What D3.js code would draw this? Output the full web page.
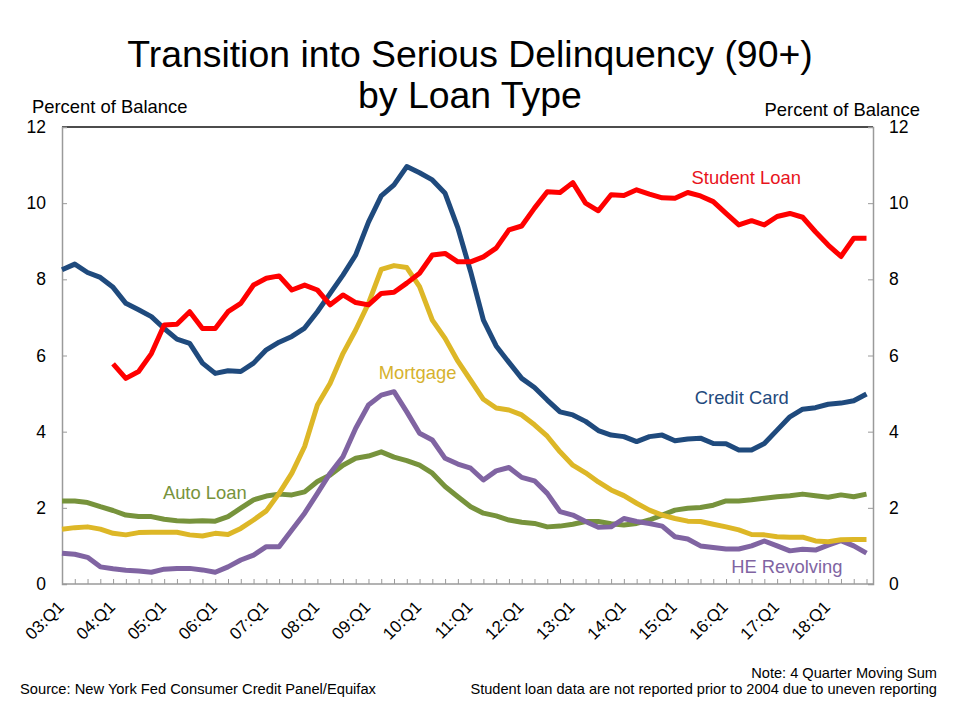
<!DOCTYPE html>
<html>
<head>
<meta charset="utf-8">
<script src="https://cdn.jsdelivr.net/npm/d3@7"></script>
<style>
  html, body { margin: 0; padding: 0; background: #fff; }
  svg { display: block; font-family: "Liberation Sans", Arial, sans-serif; }
</style>
</head>
<body>
<svg id="chart" width="954" height="714"></svg>
<script>
// ---------- data ----------
const quarters = [
  "03:Q1","03:Q2","03:Q3","03:Q4","04:Q1","04:Q2","04:Q3","04:Q4",
  "05:Q1","05:Q2","05:Q3","05:Q4","06:Q1","06:Q2","06:Q3","06:Q4",
  "07:Q1","07:Q2","07:Q3","07:Q4","08:Q1","08:Q2","08:Q3","08:Q4",
  "09:Q1","09:Q2","09:Q3","09:Q4","10:Q1","10:Q2","10:Q3","10:Q4",
  "11:Q1","11:Q2","11:Q3","11:Q4","12:Q1","12:Q2","12:Q3","12:Q4",
  "13:Q1","13:Q2","13:Q3","13:Q4","14:Q1","14:Q2","14:Q3","14:Q4",
  "15:Q1","15:Q2","15:Q3","15:Q4","16:Q1","16:Q2","16:Q3","16:Q4",
  "17:Q1","17:Q2","17:Q3","17:Q4","18:Q1","18:Q2","18:Q3","18:Q4"
];
const tickLabels = ["03:Q1","04:Q1","05:Q1","06:Q1","07:Q1","08:Q1","09:Q1","10:Q1",
  "11:Q1","12:Q1","13:Q1","14:Q1","15:Q1","16:Q1","17:Q1","18:Q1"];
const yTicks = [0, 2, 4, 6, 8, 10, 12];

const creditCard = [8.25,8.40,8.18,8.05,7.79,7.37,7.20,7.02,6.71,6.43,6.32,5.80,5.53,5.60,5.58,5.80,
  6.15,6.35,6.50,6.72,7.15,7.63,8.11,8.64,9.50,10.19,10.48,10.96,10.80,10.61,10.26,9.35,
  8.20,6.93,6.25,5.82,5.40,5.16,4.83,4.52,4.44,4.27,4.03,3.91,3.87,3.74,3.87,3.91,
  3.76,3.81,3.83,3.69,3.68,3.52,3.52,3.69,4.04,4.39,4.59,4.63,4.72,4.75,4.81,4.99];
const studentLoan = [null,null,null,null,5.78,5.40,5.58,6.05,6.80,6.82,7.15,6.71,6.71,7.15,7.37,7.85,
  8.03,8.09,7.72,7.85,7.72,7.33,7.59,7.39,7.33,7.63,7.66,7.90,8.16,8.64,8.68,8.46,
  8.46,8.59,8.82,9.30,9.40,9.87,10.30,10.28,10.54,10.00,9.80,10.22,10.20,10.35,10.24,10.14,
  10.13,10.28,10.19,10.04,9.73,9.43,9.54,9.43,9.65,9.73,9.63,9.25,8.90,8.60,9.08,9.08];
const mortgage = [1.44,1.48,1.50,1.44,1.33,1.29,1.35,1.36,1.36,1.36,1.29,1.26,1.33,1.30,1.46,1.68,
  1.92,2.38,2.91,3.61,4.70,5.27,6.05,6.67,7.37,8.26,8.36,8.31,7.81,6.93,6.45,5.85,
  5.35,4.85,4.62,4.57,4.44,4.18,3.88,3.47,3.12,2.92,2.68,2.47,2.32,2.12,1.94,1.81,
  1.72,1.65,1.64,1.57,1.50,1.42,1.30,1.29,1.24,1.23,1.23,1.13,1.11,1.16,1.17,1.17];
const autoLoan = [2.18,2.18,2.14,2.03,1.93,1.81,1.77,1.77,1.70,1.66,1.65,1.66,1.65,1.77,1.99,2.21,
  2.31,2.36,2.34,2.42,2.69,2.86,3.12,3.30,3.36,3.47,3.33,3.24,3.12,2.91,2.56,2.29,
  2.03,1.86,1.79,1.68,1.62,1.59,1.50,1.52,1.57,1.64,1.64,1.58,1.55,1.59,1.68,1.81,
  1.94,1.99,2.01,2.07,2.18,2.18,2.21,2.25,2.29,2.32,2.36,2.32,2.28,2.34,2.29,2.36];
const heRevolving = [0.81,0.78,0.70,0.45,0.40,0.36,0.34,0.31,0.39,0.41,0.41,0.37,0.31,0.45,0.63,0.76,
  0.98,0.98,1.42,1.86,2.38,2.91,3.34,4.09,4.70,4.96,5.05,4.52,3.96,3.78,3.30,3.15,
  3.04,2.73,2.97,3.06,2.80,2.71,2.38,1.90,1.81,1.64,1.49,1.50,1.72,1.64,1.59,1.52,
  1.24,1.18,1.00,0.96,0.92,0.92,1.00,1.13,1.00,0.87,0.91,0.89,1.02,1.14,1.00,0.81];

const seriesNames = ["Auto Loan","HE Revolving","Mortgage","Credit Card","Student Loan"];
const seriesValues = [autoLoan, heRevolving, mortgage, creditCard, studentLoan];
const seriesColors = ["#77933C","#8064A2","#DDB727","#1F4A7D","#FF0000"];
const labelColors  = ["#77933C","#8064A2","#D6B22E","#1F4A7D","#E8141C"];
// label anchors: [quarter index (fractional), value]
const labelAt = [[7.9,2.23],[52.4,0.29],[24.8,5.38],[49.55,4.73],[49.3,10.5]];

(function () {
// ---------- layout ----------
const svg = d3.select("#chart");
const pL = 62, pR = 873, pT = 127, pB = 584, lastX = 866.5;
const x = d3.scalePoint().domain(quarters).range([pL, lastX]);
const xi = d3.scaleLinear().domain([0, quarters.length - 1]).range([pL, lastX]);
const y = d3.scaleLinear().domain([0, 12]).range([pB, pT]);
const FONT = "\"Liberation Sans\", Arial, sans-serif";

// title
svg.append("text").attr("x", 470).attr("y", 67).attr("text-anchor", "middle")
  .attr("font-size", 37.4).attr("fill", "#000").text("Transition into Serious Delinquency (90+)");
svg.append("text").attr("x", 470).attr("y", 107.5).attr("text-anchor", "middle")
  .attr("font-size", 37.4).attr("fill", "#000").text("by Loan Type");

// axis titles
svg.append("text").attr("x", 32).attr("y", 113).attr("font-size", 18.4).attr("fill", "#000")
  .text("Percent of Balance");
svg.append("text").attr("x", 920).attr("y", 115.5).attr("text-anchor", "end").attr("font-size", 18.4)
  .attr("fill", "#000").text("Percent of Balance");

// frame top
const axisGray = "#9A9A9A";
svg.append("line").attr("x1", pL).attr("x2", pR).attr("y1", pT).attr("y2", pT)
  .attr("stroke", "#111").attr("stroke-width", 1.3);

// left / right y axes
const gL = svg.append("g").attr("transform", `translate(${pL},0)`)
  .call(d3.axisLeft(y).tickValues(yTicks).tickSize(-5).tickPadding(16).tickFormat(d3.format("d")));
const gR = svg.append("g").attr("transform", `translate(${pR},0)`)
  .call(d3.axisRight(y).tickValues(yTicks).tickSize(-5).tickPadding(16).tickFormat(d3.format("d")));
// bottom x axis (quarter ticks pointing up)
const gB = svg.append("g").attr("transform", `translate(0,${pB})`)
  .call(d3.axisBottom(x).tickValues(quarters.slice(1)).tickSize(-5).tickFormat(""));
gB.select(".domain").attr("d", `M${pL},0H${pR}`);

[gL, gR, gB].forEach(g => {
  g.select(".domain").attr("stroke", axisGray).attr("stroke-width", 1.5);
  g.selectAll(".tick line").attr("stroke", axisGray).attr("stroke-width", 1);
  g.selectAll(".tick text").attr("font-size", 17.5).attr("fill", "#000").attr("font-family", FONT);
});

// x tick labels (rotated)
svg.append("g").selectAll("text").data(tickLabels).join("text")
  .attr("transform", d => `translate(${x(d) + 3},${pB + 24}) rotate(-45)`)
  .attr("text-anchor", "end")
  .attr("font-size", 17)
  .attr("fill", "#000")
  .text(d => d);

// lines
const lineGen = d3.line()
  .defined(d => d.v !== null)
  .x(d => x(d.q))
  .y(d => y(d.v));

seriesValues.forEach((vals, k) => {
  const pts = quarters.map((q, i) => ({ q, v: vals[i] }));
  svg.append("path").datum(pts)
    .attr("d", lineGen)
    .attr("fill", "none")
    .attr("stroke", seriesColors[k])
    .attr("stroke-width", 5)
    .attr("stroke-linejoin", "round")
    .attr("stroke-linecap", "butt");
});

// series labels
seriesNames.forEach((name, k) => {
  const [qi, v] = labelAt[k];
  svg.append("text")
    .attr("x", xi(qi)).attr("y", y(v))
    .attr("font-size", 18.4)
    .attr("fill", labelColors[k])
    .text(name);
});

// footer
svg.append("text").attr("x", 20).attr("y", 693.5).attr("font-size", 14.7).attr("fill", "#000")
  .text("Source: New York Fed Consumer Credit Panel/Equifax");
svg.append("text").attr("x", 937).attr("y", 678).attr("text-anchor", "end").attr("font-size", 14.6)
  .attr("fill", "#000").text("Note: 4 Quarter Moving Sum");
svg.append("text").attr("x", 937).attr("y", 694).attr("text-anchor", "end").attr("font-size", 14.6)
  .attr("fill", "#000").text("Student loan data are not reported prior to 2004 due to uneven reporting");
})();
</script>
</body>
</html>
